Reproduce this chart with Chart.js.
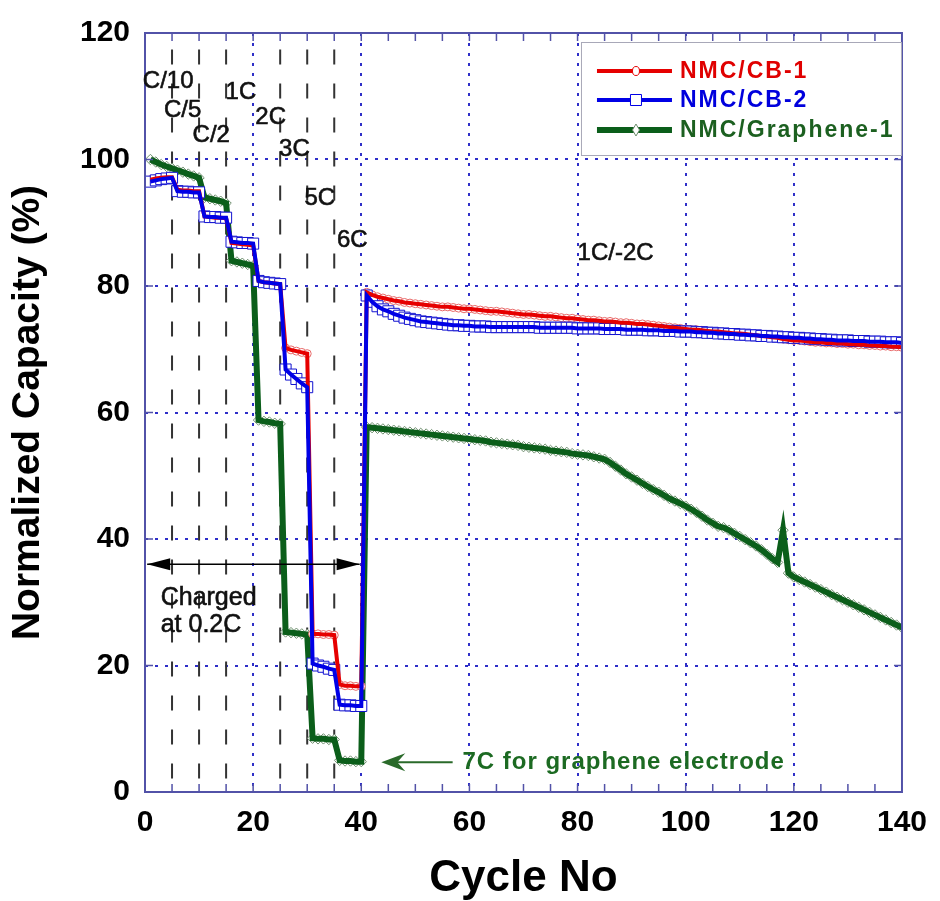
<!DOCTYPE html>
<html>
<head>
<meta charset="utf-8">
<title>Normalized capacity vs cycle number</title>
<script src="https://cdn.jsdelivr.net/npm/chart.js@4.4.0/dist/chart.umd.min.js"></script>
<style>
  html, body { margin: 0; padding: 0; background: #fff; }
  #wrap { width: 940px; height: 901px; }
</style>
</head>
<body>
<div id="wrap"><canvas id="chart" width="940" height="901"></canvas></div>
<script>
// cycle index 1..140
const cycles = Array.from({ length: 140 }, (_, i) => i + 1);

const cb1 = [
  96.8, 97.0, 97.1, 97.2, 97.2, 95.2, 95.1, 95.1, 95.0, 95.0,
  91.0, 90.9, 90.8, 90.8, 90.7, 86.8, 86.7, 86.6, 86.5, 86.4,
  80.8, 80.6, 80.5, 80.4, 80.3, 70.2, 69.9, 69.7, 69.5, 69.3,
  25.0, 25.0, 24.9, 24.9, 24.8, 17.0, 16.8, 16.8, 16.7, 16.7,
  79.0, 78.6, 78.3, 78.1, 77.9, 77.7, 77.6, 77.4, 77.3, 77.2,
  77.1, 77.0, 76.9, 76.8, 76.7, 76.7, 76.6, 76.5, 76.4, 76.4,
  76.3, 76.2, 76.1, 76.0, 76.0, 75.9, 75.8, 75.7, 75.6, 75.5,
  75.5, 75.4, 75.3, 75.2, 75.2, 75.1, 75.0, 74.9, 74.9, 74.8,
  74.7, 74.6, 74.6, 74.5, 74.4, 74.4, 74.3, 74.2, 74.2, 74.1,
  74.0, 74.0, 73.9, 73.8, 73.7, 73.6, 73.5, 73.4, 73.3, 73.2,
  73.1, 73.1, 73.0, 72.9, 72.8, 72.8, 72.7, 72.6, 72.5, 72.5,
  72.4, 72.3, 72.2, 72.1, 72.0, 71.9, 71.8, 71.6, 71.5, 71.4,
  71.4, 71.3, 71.2, 71.1, 71.1, 71.0, 71.0, 70.9, 70.9, 70.8,
  70.8, 70.7, 70.7, 70.6, 70.6, 70.5, 70.5, 70.4, 70.4, 70.3
];

const cb2 = [
  96.5, 96.7, 96.9, 97.0, 97.1, 95.0, 94.9, 94.9, 94.8, 94.8,
  91.0, 90.9, 90.9, 90.8, 90.8, 87.0, 86.9, 86.8, 86.8, 86.7,
  80.8, 80.6, 80.5, 80.4, 80.3, 66.8, 66.0, 65.3, 64.6, 64.0,
  20.3, 20.0, 19.8, 19.5, 19.3, 13.8, 13.7, 13.7, 13.6, 13.6,
  78.5, 77.5, 76.8, 76.3, 76.0, 75.6, 75.3, 75.0, 74.8, 74.6,
  74.4, 74.3, 74.2, 74.1, 74.0, 73.9, 73.8, 73.8, 73.7, 73.7,
  73.6, 73.6, 73.6, 73.5, 73.5, 73.5, 73.5, 73.5, 73.5, 73.5,
  73.5, 73.5, 73.4, 73.4, 73.4, 73.4, 73.4, 73.4, 73.4, 73.3,
  73.3, 73.3, 73.3, 73.3, 73.2, 73.2, 73.2, 73.2, 73.1, 73.1,
  73.1, 73.1, 73.0, 73.0, 73.0, 72.9, 72.9, 72.9, 72.8, 72.8,
  72.8, 72.7, 72.7, 72.6, 72.6, 72.5, 72.5, 72.4, 72.4, 72.3,
  72.3, 72.2, 72.2, 72.1, 72.1, 72.0, 72.0, 71.9, 71.9, 71.8,
  71.8, 71.7, 71.7, 71.6, 71.6, 71.5, 71.5, 71.4, 71.4, 71.4,
  71.3, 71.3, 71.3, 71.2, 71.2, 71.2, 71.1, 71.1, 71.1, 71.0
];

const graphene = [
  100.0, 99.6, 99.2, 98.9, 98.6, 98.3, 98.0, 97.7, 97.4, 97.1,
  94.0, 93.8, 93.6, 93.4, 93.1, 84.0, 83.8, 83.6, 83.4, 83.2,
  58.8, 58.6, 58.5, 58.3, 58.2, 25.3, 25.2, 25.1, 25.0, 24.9,
  8.5, 8.4, 8.4, 8.3, 8.3, 5.0, 4.9, 4.9, 4.8, 4.8,
  57.7, 57.6, 57.5, 57.4, 57.3, 57.2, 57.1, 57.0, 56.9, 56.8,
  56.7, 56.6, 56.5, 56.4, 56.3, 56.2, 56.1, 56.0, 55.9, 55.8,
  55.7, 55.6, 55.5, 55.3, 55.2, 55.1, 55.0, 54.9, 54.8, 54.6,
  54.5, 54.4, 54.3, 54.2, 54.0, 53.9, 53.8, 53.7, 53.5, 53.4,
  53.3, 53.2, 53.0, 52.8, 52.6, 52.1, 51.5, 50.9, 50.3, 49.8,
  49.3, 48.8, 48.3, 47.8, 47.4, 46.9, 46.4, 46.0, 45.6, 45.2,
  44.7, 44.2, 43.6, 43.0, 42.5, 42.0, 41.8, 41.4, 40.9, 40.4,
  39.9, 39.4, 38.9, 38.3, 37.6, 36.9, 36.3, 41.4, 34.6, 34.0,
  33.6, 33.2, 32.8, 32.4, 32.0, 31.6, 31.2, 30.8, 30.4, 30.0,
  29.6, 29.2, 28.8, 28.4, 28.0, 27.6, 27.2, 26.8, 26.4, 26.0
];

const seriesNames = ['NMC/CB-1', 'NMC/CB-2', 'NMC/Graphene-1'];
const rateBoundaries = [5, 10, 15, 25, 30, 35];

// rate labels, placed in data units (cycle, %)
const rateNotes = [
  { text: 'C/10', x: -0.4, y: 112.4 },
  { text: 'C/5', x: 3.5, y: 107.8 },
  { text: 'C/2', x: 8.8, y: 103.8 },
  { text: '1C', x: 14.9, y: 110.6 },
  { text: '2C', x: 20.4, y: 106.7 },
  { text: '3C', x: 24.8, y: 101.6 },
  { text: '5C', x: 29.5, y: 93.9 },
  { text: '6C', x: 35.5, y: 87.2 },
  { text: '1C/-2C', x: 80.0, y: 85.2 }
];

const FONT = "'Liberation Sans', Arial, sans-serif";
const red = '#e60000', blue = '#0000e6', green = '#0b5e1a';
const frameColor = '#5252a8';
const gridColor = '#2f2fc8';

const styles = [
  { color: red, width: 4, point: 'circle', radius: 4, edge: '#e86a6a', text: '#e00000' },
  { color: blue, width: 4, point: 'rect', radius: 7.8, edge: '#1212d0', text: '#0000dd' },
  { color: green, width: 6, point: 'rectRot', radius: 5.2, edge: '#6e8e6e', text: '#1c6020' }
];

function toPoints(values) {
  return cycles.map((c, i) => ({ x: c, y: values[i] }));
}

function pointSet(values, s, order) {
  return {
    data: toPoints(values), showLine: false, order: order,
    pointStyle: s.point, pointRadius: s.radius, pointBorderColor: s.edge,
    pointBackgroundColor: '#ffffff', pointBorderWidth: 1
  };
}

function lineSet(label, values, s, order) {
  return {
    label: label, data: toPoints(values), order: order,
    borderColor: s.color, borderWidth: s.width, pointRadius: 0, tension: 0, fill: false
  };
}

function drawMarker(ctx, s, x, y) {
  ctx.save();
  ctx.fillStyle = '#fff';
  ctx.strokeStyle = s.point === 'circle' ? red : (s.point === 'rect' ? blue : s.edge);
  ctx.lineWidth = 1;
  ctx.beginPath();
  if (s.point === 'circle') {
    ctx.ellipse(x, y, 3.5, 4.5, 0, 0, Math.PI * 2);
  } else if (s.point === 'rect') {
    ctx.rect(x - 5.5, y - 5.5, 11, 11);
  } else {
    ctx.moveTo(x, y - 6); ctx.lineTo(x + 3.5, y); ctx.lineTo(x, y + 6); ctx.lineTo(x - 3.5, y); ctx.closePath();
  }
  ctx.fill();
  ctx.stroke();
  ctx.restore();
}

function arrowHead(ctx, tipX, y, dir, len, half) {
  ctx.beginPath();
  ctx.moveTo(tipX, y);
  ctx.lineTo(tipX + dir * len, y - half);
  ctx.lineTo(tipX + dir * len, y + half);
  ctx.closePath();
  ctx.fill();
}

// slightly heavier than regular weight, like the original's annotation text
function heavyText(ctx, text, px, py) {
  ctx.fillText(text, px, py);
  ctx.strokeText(text, px, py);
}

const decoPlugin = {
  id: 'deco',
  beforeDatasetsDraw(chart) {
    const { ctx, chartArea: a, scales: { x, y } } = chart;
    ctx.save();
    ctx.strokeStyle = '#333';
    ctx.lineWidth = 2;
    ctx.setLineDash([15, 19]);
    rateBoundaries.forEach(c => {
      const px = x.getPixelForValue(c);
      ctx.beginPath();
      ctx.moveTo(px, y.getPixelForValue(117.4));
      ctx.lineTo(px, a.bottom);
      ctx.stroke();
    });
    ctx.restore();
  },
  afterDatasetsDraw(chart) {
    const { ctx, chartArea: a, scales: { x, y } } = chart;
    ctx.save();

    // frame and inward ticks
    ctx.strokeStyle = frameColor;
    ctx.lineWidth = 2;
    ctx.strokeRect(a.left, a.top, a.right - a.left, a.bottom - a.top);
    ctx.lineWidth = 1.5;
    for (let v = 5; v < 140; v += 5) {
      const px = x.getPixelForValue(v);
      ctx.beginPath();
      ctx.moveTo(px, a.bottom); ctx.lineTo(px, a.bottom - 8);
      ctx.moveTo(px, a.top); ctx.lineTo(px, a.top + 8);
      ctx.stroke();
    }
    for (let v = 20; v < 120; v += 20) {
      const py = y.getPixelForValue(v);
      ctx.beginPath();
      ctx.moveTo(a.left, py); ctx.lineTo(a.left + 8, py);
      ctx.moveTo(a.right, py); ctx.lineTo(a.right - 8, py);
      ctx.stroke();
    }

    // rate labels
    ctx.fillStyle = '#111';
    ctx.strokeStyle = '#111';
    ctx.lineWidth = 0.6;
    ctx.font = '24px ' + FONT;
    ctx.textAlign = 'left';
    ctx.textBaseline = 'middle';
    rateNotes.forEach(n => heavyText(ctx, n.text, x.getPixelForValue(n.x), y.getPixelForValue(n.y)));

    // charged at 0.2C arrow
    const ay = y.getPixelForValue(36);
    const ax0 = x.getPixelForValue(0.4), ax1 = x.getPixelForValue(39.7);
    ctx.strokeStyle = '#000';
    ctx.fillStyle = '#000';
    ctx.lineWidth = 1.5;
    ctx.beginPath(); ctx.moveTo(ax0, ay); ctx.lineTo(ax1, ay); ctx.stroke();
    arrowHead(ctx, ax0, ay, 1, 23, 6);
    arrowHead(ctx, ax1, ay, -1, 23, 6);
    ctx.font = '25px ' + FONT;
    ctx.fillStyle = '#111';
    ctx.strokeStyle = '#111';
    ctx.lineWidth = 0.6;
    heavyText(ctx, 'Charged', x.getPixelForValue(2.9), y.getPixelForValue(30.7));
    heavyText(ctx, 'at 0.2C', x.getPixelForValue(2.9), y.getPixelForValue(26.4));

    // 7C note
    const gy = y.getPixelForValue(4.7);
    const gTip = x.getPixelForValue(43.7), gEnd = x.getPixelForValue(56.9);
    ctx.strokeStyle = '#2a6a2a';
    ctx.fillStyle = '#2a6a2a';
    ctx.lineWidth = 2;
    ctx.beginPath(); ctx.moveTo(gTip + 10, gy); ctx.lineTo(gEnd, gy); ctx.stroke();
    ctx.beginPath();
    ctx.moveTo(gTip, gy);
    ctx.lineTo(gTip + 24, gy - 9);
    ctx.lineTo(gTip + 16, gy);
    ctx.lineTo(gTip + 24, gy + 9);
    ctx.closePath();
    ctx.fill();
    ctx.fillStyle = '#1c6a22';
    ctx.font = 'bold 24px ' + FONT;
    ctx.letterSpacing = '1px';
    ctx.fillText('7C for graphene electrode', x.getPixelForValue(58.7), gy);
    ctx.letterSpacing = '0px';

    // legend
    const bx = a.right - 321, by = a.top + 9;
    ctx.fillStyle = '#fff';
    ctx.fillRect(bx, by, 321, 114);
    ctx.strokeStyle = '#a8a8b8';
    ctx.lineWidth = 1;
    ctx.strokeRect(bx + 0.5, by + 0.5, 320, 113);
    const rows = [a.top + 38, a.top + 67, a.top + 97];
    styles.forEach((s, i) => {
      const ry = rows[i];
      ctx.strokeStyle = s.color;
      ctx.lineWidth = s.width;
      ctx.beginPath();
      ctx.moveTo(a.right - 305, ry); ctx.lineTo(a.right - 230, ry);
      ctx.stroke();
      drawMarker(ctx, s, a.right - 266, ry);
      ctx.fillStyle = s.text;
      ctx.font = 'bold 23px ' + FONT;
      ctx.letterSpacing = '2px';
      ctx.textBaseline = 'middle';
      ctx.fillText(seriesNames[i], a.right - 222, ry + 1);
      ctx.letterSpacing = '0px';
    });

    ctx.restore();
  }
};

const tickFont = { family: FONT, size: 30, weight: 'bold' };
const gridLine = (ctx, maxV) => (ctx.tick && ctx.tick.value > 0 && ctx.tick.value < maxV) ? gridColor : 'rgba(0,0,0,0)';

new Chart(document.getElementById('chart').getContext('2d'), {
  type: 'line',
  data: {
    datasets: [
      pointSet(graphene, styles[2], 6),
      lineSet(seriesNames[2], graphene, styles[2], 5),
      pointSet(cb1, styles[0], 4),
      pointSet(cb2, styles[1], 3),
      lineSet(seriesNames[0], cb1, styles[0], 2),
      lineSet(seriesNames[1], cb2, styles[1], 1)
    ]
  },
  options: {
    responsive: false,
    devicePixelRatio: 1,
    animation: false,
    layout: { padding: { top: 23, right: 27, bottom: 0, left: 0 } },
    plugins: { legend: { display: false }, tooltip: { enabled: false } },
    scales: {
      x: {
        type: 'linear', min: 0, max: 140,
        ticks: { stepSize: 20, padding: 13, color: '#000', font: tickFont, maxRotation: 0 },
        grid: { color: c => gridLine(c, 140), lineWidth: 2, drawTicks: false },
        border: { display: false, dash: [3, 7] },
        title: { display: true, text: 'Cycle No', color: '#000', padding: 0,
                 font: { family: FONT, size: 44, weight: 'bold', lineHeight: 1 } },
        afterFit: s => { s.height = 109; }
      },
      y: {
        min: 0, max: 120,
        ticks: { stepSize: 20, padding: 15, color: '#000', font: tickFont },
        grid: { color: c => gridLine(c, 120), lineWidth: 2, drawTicks: false },
        border: { display: false, dash: [3, 7] },
        title: { display: true, text: 'Normalized Capacity (%)', color: '#000',
                 padding: { top: 8.5, bottom: 0 },
                 font: { family: FONT, size: 39, weight: 'bold', lineHeight: 1 } },
        afterFit: s => { s.width = 145; }
      }
    }
  },
  plugins: [decoPlugin]
});
</script>
</body>
</html>
